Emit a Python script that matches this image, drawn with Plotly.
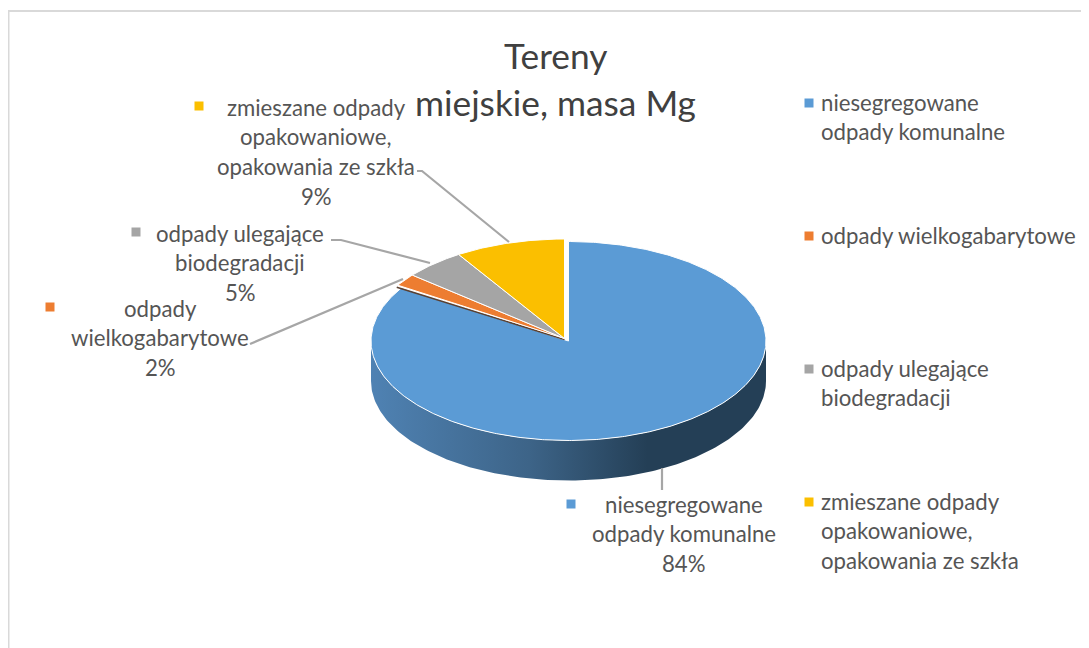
import numpy as np
import plotly.graph_objects as go

title_lines = ["Tereny", "miejskie, masa Mg"]
categories = ["niesegregowane odpady komunalne", "odpady wielkogabarytowe",
              "odpady ulegające biodegradacji",
              "zmieszane odpady opakowaniowe, opakowania ze szkła"]
values = [84, 2, 5, 9]
colors = ["#5b9bd5", "#ed7d31", "#a5a5a5", "#fbbf00"]

label_lines = [
    ["niesegregowane", "odpady komunalne"],
    ["odpady", "wielkogabarytowe"],
    ["odpady ulegające", "biodegradacji"],
    ["zmieszane odpady", "opakowaniowe,", "opakowania ze szkła"],
]
legend_lines = [
    ["niesegregowane", "odpady komunalne"],
    ["odpady wielkogabarytowe"],
    ["odpady ulegające", "biodegradacji"],
    ["zmieszane odpady", "opakowaniowe,", "opakowania ze szkła"],
]

# --- layout geometry (pixel space of the picture) ---
W, H = 1089, 648
PAGE_MARGIN = 8  # the page's own body margin shifts the figure by this much
FONT = "Lato"
TXT = "#555555"
BLUE_C = (568.5, 341.0)
REST_C = (564.5, 338.5)
RX, RY, DEPTH = 197.5, 99.5, 40
label_pos = [(684, 504), (160, 308), (240, 233), (316, 107)]
label_marker = [(571, 504), (50, 307), (136, 232), (199, 106)]
legend_y = [103, 236, 369, 502]
LINE_H = 29.7
leaders = [
    [(662, 468), (662, 490)],
    [(250, 344), (403, 279)],
    [(331, 240), (341, 240), (430, 263)],
    [(417, 171), (422, 171), (509, 242)],
]


def rim(c, t):
    return c[0] + RX * np.sin(t), c[1] - RY * np.cos(t)


fig = go.Figure()

# side wall
t = np.radians(np.linspace(90, 270, 181))
x1, y1 = rim(BLUE_C, t)
fig.add_trace(go.Scatter(
    x=np.r_[x1, x1[::-1]], y=np.r_[y1, y1[::-1] + DEPTH], mode="lines",
    line=dict(width=0), fill="toself", hoverinfo="skip", showlegend=False,
    fillgradient=dict(type="horizontal", start=BLUE_C[0] - RX, stop=BLUE_C[0] + RX,
                      colorscale=[[0, "#4f82b3"], [0.4, "#3d6488"],
                                  [0.7, "#243f56"], [1, "#243f56"]])))
# slices, clockwise from 12 o'clock
total = sum(values)
start = 0.0
for i, v in enumerate(values):
    a0 = start / total * 2 * np.pi
    a1 = (start + v) / total * 2 * np.pi
    start += v
    c = BLUE_C if i == 0 else REST_C
    tt = np.linspace(a0, a1, max(6, int(v * 6)))
    xs, ys = rim(c, tt)
    if i == 1:  # dark sliver: the side wall of the cut
        ex, ey = rim(c, np.array([a0]))
        fig.add_trace(go.Scatter(
            x=[c[0], ex[0] - 1], y=[c[1] + 1, ey[0] + 2], mode="lines",
            line=dict(color="#5b4030", width=1.5), hoverinfo="skip", showlegend=False))
    fig.add_trace(go.Scatter(
        x=np.r_[c[0], xs, c[0]], y=np.r_[c[1], ys, c[1]], mode="lines", fill="toself",
        fillcolor=colors[i], line=dict(color="white", width=1),
        name=categories[i], hoverinfo="name", showlegend=False))

# leader lines
for pts in leaders:
    fig.add_trace(go.Scatter(
        x=[p[0] for p in pts], y=[p[1] for p in pts], mode="lines",
        line=dict(color="#a6a6a6", width=2.2), hoverinfo="skip", showlegend=False))

# legend + label markers
fig.add_trace(go.Scatter(
    x=[809] * 4 + [p[0] for p in label_marker],
    y=legend_y + [p[1] for p in label_marker], mode="markers",
    marker=dict(symbol="square", size=9, color=colors + colors, line=dict(width=0)),
    hoverinfo="skip", showlegend=False))

ann = []


def put(x, y, s, size, color=TXT, anchor="center"):
    ann.append(dict(x=x, y=y, xref="x", yref="y", text=s, showarrow=False,
                    xanchor=anchor, yanchor="middle",
                    font=dict(family=FONT, size=size, color=color)))


put(555, 55, title_lines[0], 35.3, "#404040")
put(555, 102, title_lines[1], 35.3, "#404040")
for i, lines in enumerate(label_lines):
    x, y = label_pos[i]
    for k, s in enumerate(lines + [f"{values[i]}%"]):
        put(x, y + k * LINE_H, s, 22.2)
for i, lines in enumerate(legend_lines):
    for k, s in enumerate(lines):
        put(819, legend_y[i] - 1 + k * LINE_H, s, 22.2, anchor="left")

fig.update_layout(
    width=W, height=H, margin=dict(l=0, r=0, t=0, b=0), autosize=False,
    paper_bgcolor="white", plot_bgcolor="white", annotations=ann,
    xaxis=dict(range=[PAGE_MARGIN, W + PAGE_MARGIN], visible=False, fixedrange=True),
    yaxis=dict(range=[H + PAGE_MARGIN, PAGE_MARGIN], visible=False, fixedrange=True),
    shapes=[dict(type="line", x0=7.5, x1=W + 8, y0=11, y1=11, xref="x", yref="y",
                 line=dict(color="#d9d9d9", width=2)),
            dict(type="line", x0=8.5, x1=8.5, y0=11, y1=H + 8, xref="x", yref="y",
                 line=dict(color="#d9d9d9", width=2))])
fig.write_html("out.html", config=dict(displayModeBar=False))
